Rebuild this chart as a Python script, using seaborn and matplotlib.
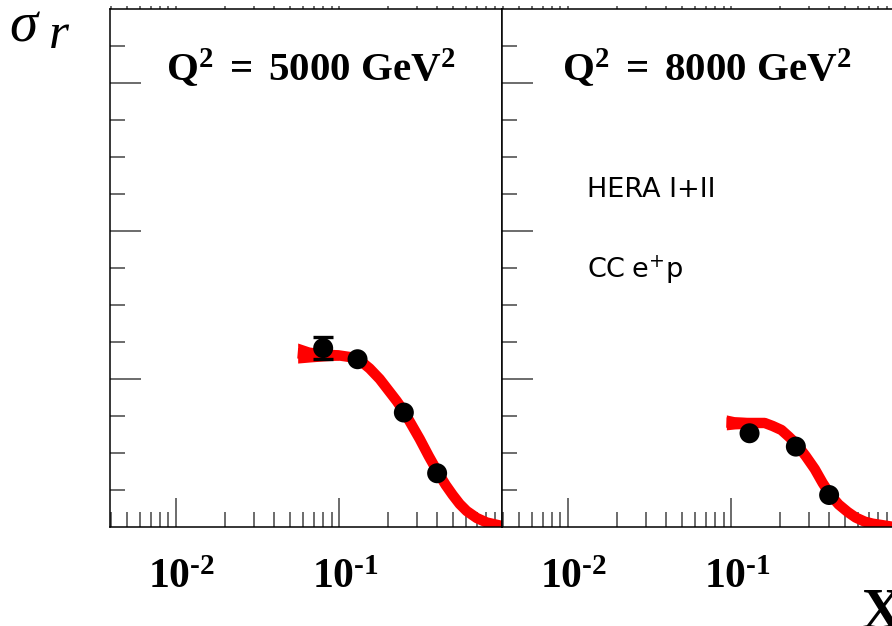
import matplotlib
matplotlib.use("Agg")
import numpy as np
import pandas as pd
import matplotlib.pyplot as plt
import seaborn as sns
from matplotlib.ticker import FixedLocator, NullFormatter, FixedFormatter
from matplotlib.transforms import ScaledTranslation

# ---------------- data ----------------
panel_titles = [r"$\mathbf{Q^{2}\ =\ 5000\ GeV^{2}}$", r"$\mathbf{Q^{2}\ =\ 8000\ GeV^{2}}$"]

pts_x_5000 = [0.08, 0.13, 0.25, 0.40]
pts_y_5000 = [0.242, 0.227, 0.155, 0.073]
pts_err_5000 = [0.0153, 0.0, 0.0, 0.0]

pts_x_8000 = [0.13, 0.25, 0.40]
pts_y_8000 = [0.127, 0.109, 0.0436]
pts_err_8000 = [0.0, 0.0, 0.0]

curve_x_5000 = [0.0558, 0.0661, 0.0817, 0.101, 0.1163, 0.1284, 0.1417, 0.1542, 0.1777,
                0.2047, 0.2259, 0.2493, 0.2793, 0.3128, 0.355, 0.4031, 0.4515, 0.4983,
                0.55, 0.6073, 0.6995, 0.8056, 1.0]
curve_y_5000 = [0.235, 0.2336, 0.2334, 0.232, 0.230, 0.2269, 0.2212, 0.2145, 0.2003,
                0.1828, 0.1706, 0.1571, 0.1382, 0.1193, 0.0963, 0.0747, 0.0571, 0.0437,
                0.0315, 0.022, 0.0126, 0.0065, 0.0018]
band_x_5000 = [0.0558, 0.066, 0.08, 0.10]
band_lo_5000 = [0.2218, 0.2232, 0.2246, 0.2259]
band_hi_5000 = [0.2489, 0.2435, 0.2408, 0.2394]

curve_x_8000 = [0.0937, 0.1054, 0.1302, 0.161, 0.1803, 0.204, 0.2259, 0.252, 0.2872,
                0.3265, 0.3652, 0.4075, 0.4578, 0.52, 0.5821, 0.662, 0.74, 0.838, 1.0]
curve_y_8000 = [0.1415, 0.1411, 0.1409, 0.1409, 0.1368, 0.1314, 0.1226, 0.1125, 0.0963,
                0.0787, 0.0598, 0.0436, 0.0308, 0.0207, 0.0132, 0.0076, 0.0049, 0.0031, 0.0004]
band_x_8000 = [0.0937, 0.1054, 0.13]
band_lo_8000 = [0.1316, 0.1328, 0.1337]
band_hi_8000 = [0.1518, 0.1494, 0.1480]

xtick_major = [1e-2, 1e-1]
xtick_labels = [r"$\mathbf{10^{‐2}}$", r"$\mathbf{10^{‐1}}$"]
xtick_minor = [m * 10.0 ** k for k in (-3, -2, -1) for m in range(2, 10)]
ytick_major = [0.2, 0.4, 0.6]
ytick_minor = [0.05, 0.1, 0.15, 0.25, 0.3, 0.35, 0.45, 0.5, 0.55, 0.65]

# ---------------- style ----------------
sns.set_style("white")
plt.rcParams["font.family"] = ["DejaVu Sans"]
plt.rcParams["mathtext.fontset"] = "custom"
plt.rcParams["mathtext.rm"] = "Liberation Serif:bold"
plt.rcParams["mathtext.bf"] = "Liberation Serif:bold"
plt.rcParams["mathtext.it"] = "Liberation Serif:italic"
plt.rcParams["mathtext.sf"] = "DejaVu Sans"

W, H = 892, 626
fig = plt.figure(figsize=(W / 100, H / 100), dpi=100)
fig.patch.set_facecolor("white")

ax_l = fig.add_axes([110 / W, 98.7 / H, 392 / W, 518.3 / H])
ax_r = fig.add_axes([502 / W, 98.7 / H, 392 / W, 518.3 / H])

panels = [
    (ax_l, pts_x_5000, pts_y_5000, pts_err_5000, curve_x_5000, curve_y_5000,
     band_x_5000, band_lo_5000, band_hi_5000, 0.512),
    (ax_r, pts_x_8000, pts_y_8000, pts_err_8000, curve_x_8000, curve_y_8000,
     band_x_8000, band_lo_8000, band_hi_8000, 0.523),
]

for i, (ax, px, py, pe, cx, cy, bx, blo, bhi, tx) in enumerate(panels):
    ax.set_xscale("log")
    ax.set_xlim(0.00394, 1.0)
    ax.set_ylim(0.0, 0.7)
    ax.fill_between(bx, blo, bhi, color="#ff0000", lw=0, zorder=2)
    curve_df = pd.DataFrame({"x": cx, "y": cy})
    sns.lineplot(data=curve_df, x="x", y="y", ax=ax, color="#ff0000", lw=7.5,
                 sort=False, solid_capstyle="butt", solid_joinstyle="round",
                 zorder=2, legend=False)
    pxa, pya, pea = np.array(px), np.array(py), np.array(pe)
    m = pea > 0
    if m.any():
        ax.errorbar(pxa[m], pya[m], yerr=pea[m], fmt="none", ecolor="black",
                    elinewidth=2.2, capsize=7, capthick=2.4, zorder=3)
    pts_df = pd.DataFrame({"x": px, "y": py})
    sns.scatterplot(data=pts_df, x="x", y="y", ax=ax, color="black", s=207,
                    edgecolor="none", zorder=4, legend=False)
    ax.set_xlabel("")
    ax.set_ylabel("")

    ax.xaxis.set_major_locator(FixedLocator(xtick_major))
    ax.xaxis.set_major_formatter(FixedFormatter(xtick_labels))
    ax.xaxis.set_minor_locator(FixedLocator(xtick_minor))
    ax.xaxis.set_minor_formatter(NullFormatter())
    ax.yaxis.set_major_locator(FixedLocator(ytick_major))
    ax.yaxis.set_minor_locator(FixedLocator(ytick_minor))
    ax.yaxis.set_major_formatter(NullFormatter())

    ax.tick_params(axis="x", which="major", direction="in", length=21, width=1.1,
                   color="#444444", labelsize=30, pad=20, top=False, bottom=True,
                   labelcolor="black")
    ax.tick_params(axis="x", which="minor", direction="in", length=11, width=1.1,
                   color="#444444", top=False, bottom=True)
    ax.tick_params(axis="y", which="major", direction="in", length=22, width=1.1,
                   color="#444444", left=True, right=False, labelleft=False)
    ax.tick_params(axis="y", which="minor", direction="in", length=11, width=1.1,
                   color="#444444", left=True, right=False)
    # short outward marks along the top edge
    ax.tick_params(axis="x", which="both", top=True, labeltop=False)
    for t in ax.xaxis.get_major_ticks() + ax.xaxis.get_minor_ticks():
        t.tick2line.set_marker(matplotlib.lines.TICKUP)
        t.tick2line.set_markersize(2)
    for sp in ax.spines.values():
        sp.set_color("black")
        sp.set_linewidth(1.1)
    for lab in ax.get_xticklabels():
        lab.set_transform(lab.get_transform() + ScaledTranslation(6 / 100, 0, fig.dpi_scale_trans))

    ax.text(tx, 0.884, panel_titles[i], transform=ax.transAxes, ha="center",
            va="center", fontsize=29.5, color="black")
    ax.set_facecolor("white")

ax_r.text(0.217, 0.637, "HERA I+II", transform=ax_r.transAxes, ha="left",
          va="baseline", fontsize=19.5, family="DejaVu Sans", color="black")
ax_r.text(0.217, 0.482, r"$\mathsf{CC\ e^{+}p}$", transform=ax_r.transAxes,
          ha="left", va="baseline", fontsize=19.5, color="black")

fig.text(9 / W, 1 - 42 / H, "σ", family="Liberation Serif", style="italic",
         fontsize=41, ha="left", va="baseline", color="black")
fig.text(49 / W, 1 - 48 / H, "r", family="Liberation Serif", style="italic",
         fontsize=37, ha="left", va="baseline", color="black")
fig.text(862 / W, 1 - 628 / H, "X", family="Liberation Serif", weight="bold",
         fontsize=40, ha="left", va="baseline", color="black")

fig.savefig("out.png", dpi=100, facecolor="white")
